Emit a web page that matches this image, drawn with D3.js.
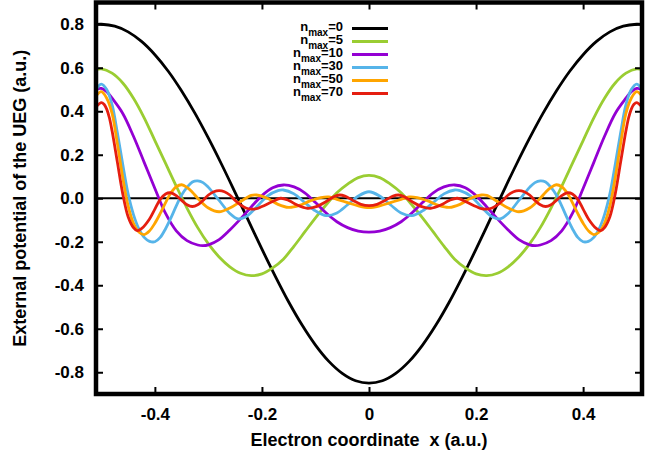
<!DOCTYPE html>
<html><head><meta charset="utf-8">
<script src="https://cdn.jsdelivr.net/npm/d3@7"></script>
<style>
body{margin:0;background:#fff}
svg{display:block}
text{font-family:"Liberation Sans",Arial,Helvetica,sans-serif;font-weight:bold;fill:#000}
</style>
</head><body>
<svg id="chart" width="669" height="458"></svg>
<script>
// ---- data ----
const xTicks = [-0.4, -0.2, 0, 0.2, 0.4];
const xTickLabels = ["-0.4", "-0.2", "0", "0.2", "0.4"];
const yTicks = [-0.8, -0.6, -0.4, -0.2, 0, 0.2, 0.4, 0.6, 0.8];
const yTickLabels = ["-0.8", "-0.6", "-0.4", "-0.2", "0.0", "0.2", "0.4", "0.6", "0.8"];
const seriesNmax = ["0", "5", "10", "30", "50", "70"];

const n0X = [-0.51,-0.5,-0.475,-0.45,-0.425,-0.4,-0.375,-0.35,-0.325,-0.3,-0.275,-0.25,-0.225,-0.2,-0.175,-0.15,-0.125,-0.1,-0.075,-0.05,-0.025,0,0.025,0.05,0.075,0.1,0.125,0.15,0.175,0.2,0.225,0.25,0.275,0.3,0.325,0.35,0.375,0.4,0.425,0.45,0.475,0.5,0.51];
const n0Y = [0.799,0.800,0.791,0.765,0.721,0.660,0.584,0.493,0.390,0.276,0.154,0.026,-0.104,-0.234,-0.359,-0.477,-0.583,-0.675,-0.750,-0.805,-0.839,-0.850,-0.839,-0.805,-0.750,-0.675,-0.583,-0.477,-0.359,-0.234,-0.104,0.026,0.154,0.276,0.390,0.493,0.584,0.660,0.721,0.765,0.791,0.800,0.799];

const n5X = [-0.51,-0.5,-0.48,-0.46,-0.44,-0.42,-0.4,-0.38,-0.36,-0.34,-0.32,-0.3,-0.28,-0.26,-0.24,-0.22,-0.2,-0.18,-0.16,-0.14,-0.12,-0.1,-0.08,-0.06,-0.04,-0.02,0,0.02,0.04,0.06,0.08,0.1,0.12,0.14,0.16,0.18,0.2,0.22,0.24,0.26,0.28,0.3,0.32,0.34,0.36,0.38,0.4,0.42,0.44,0.46,0.48,0.5,0.51];
const n5Y = [0.592,0.595,0.575,0.53,0.46,0.37,0.265,0.16,0.055,-0.045,-0.135,-0.21,-0.27,-0.315,-0.345,-0.356,-0.348,-0.32,-0.28,-0.22,-0.155,-0.09,-0.03,0.025,0.065,0.095,0.105,0.095,0.065,0.025,-0.03,-0.09,-0.155,-0.22,-0.28,-0.32,-0.348,-0.356,-0.345,-0.315,-0.27,-0.21,-0.135,-0.045,0.055,0.16,0.265,0.37,0.46,0.53,0.575,0.595,0.592];

const n10X = [-0.51,-0.5,-0.49,-0.48,-0.46,-0.44,-0.42,-0.4,-0.38,-0.36,-0.34,-0.32,-0.31,-0.3,-0.28,-0.26,-0.24,-0.22,-0.2,-0.18,-0.16,-0.14,-0.12,-0.1,-0.08,-0.06,-0.04,-0.02,0,0.02,0.04,0.06,0.08,0.1,0.12,0.14,0.16,0.18,0.2,0.22,0.24,0.26,0.28,0.3,0.31,0.32,0.34,0.36,0.38,0.4,0.42,0.44,0.46,0.48,0.49,0.5,0.51];
const n10Y = [0.50,0.505,0.49,0.46,0.39,0.285,0.165,0.045,-0.07,-0.15,-0.195,-0.215,-0.218,-0.214,-0.19,-0.146,-0.095,-0.04,0.012,0.048,0.061,0.052,0.025,-0.02,-0.068,-0.108,-0.135,-0.151,-0.156,-0.151,-0.135,-0.108,-0.068,-0.02,0.025,0.052,0.061,0.048,0.012,-0.04,-0.095,-0.146,-0.19,-0.214,-0.218,-0.215,-0.195,-0.15,-0.07,0.045,0.165,0.285,0.39,0.46,0.49,0.505,0.50];

const n30X = [-0.51,-0.5,-0.49,-0.48,-0.47,-0.46,-0.45,-0.44,-0.43,-0.42,-0.41,-0.4,-0.39,-0.38,-0.37,-0.36,-0.35,-0.34,-0.33,-0.32,-0.31,-0.3,-0.28,-0.26,-0.245,-0.23,-0.21,-0.19,-0.17,-0.16,-0.14,-0.12,-0.1,-0.08,-0.06,-0.04,-0.02,0,0.02,0.04,0.06,0.08,0.1,0.12,0.14,0.16,0.17,0.19,0.21,0.23,0.245,0.26,0.28,0.3,0.31,0.32,0.33,0.34,0.35,0.36,0.37,0.38,0.39,0.4,0.41,0.42,0.43,0.44,0.45,0.46,0.47,0.48,0.49,0.5,0.51];
const n30Y = [0.50,0.525,0.50,0.43,0.30,0.155,0.02,-0.075,-0.14,-0.18,-0.198,-0.20,-0.18,-0.14,-0.09,-0.035,0.015,0.05,0.075,0.08,0.072,0.05,-0.01,-0.07,-0.095,-0.085,-0.04,0.01,0.035,0.038,0.02,-0.02,-0.058,-0.08,-0.068,-0.03,0.01,0.03,0.01,-0.03,-0.068,-0.08,-0.058,-0.02,0.02,0.038,0.035,0.01,-0.04,-0.085,-0.095,-0.07,-0.01,0.05,0.072,0.08,0.075,0.05,0.015,-0.035,-0.09,-0.14,-0.18,-0.20,-0.198,-0.18,-0.14,-0.075,0.02,0.155,0.30,0.43,0.50,0.525,0.50];

const n50X = [-0.51,-0.5,-0.49,-0.48,-0.47,-0.46,-0.45,-0.44,-0.43,-0.42,-0.41,-0.4,-0.39,-0.38,-0.37,-0.36,-0.35,-0.34,-0.33,-0.32,-0.3,-0.28,-0.26,-0.24,-0.22,-0.21,-0.19,-0.17,-0.15,-0.13,-0.11,-0.09,-0.075,-0.06,-0.04,-0.02,0,0.02,0.04,0.06,0.075,0.09,0.11,0.13,0.15,0.17,0.19,0.21,0.22,0.24,0.26,0.28,0.3,0.32,0.33,0.34,0.35,0.36,0.37,0.38,0.39,0.4,0.41,0.42,0.43,0.44,0.45,0.46,0.47,0.48,0.49,0.5,0.51];
const n50Y = [0.47,0.49,0.46,0.39,0.25,0.095,-0.035,-0.115,-0.155,-0.167,-0.15,-0.115,-0.07,-0.02,0.025,0.053,0.062,0.05,0.028,0.0,-0.045,-0.062,-0.045,-0.015,0.013,0.015,0.0,-0.028,-0.042,-0.033,-0.012,0.003,0.006,-0.005,-0.02,-0.035,-0.043,-0.035,-0.02,-0.005,0.006,0.003,-0.012,-0.033,-0.042,-0.028,0.0,0.015,0.013,-0.015,-0.045,-0.062,-0.045,0.0,0.028,0.05,0.062,0.053,0.025,-0.02,-0.07,-0.115,-0.15,-0.167,-0.155,-0.115,-0.035,0.095,0.25,0.39,0.46,0.49,0.47];

const n70X = [-0.51,-0.5,-0.495,-0.49,-0.485,-0.48,-0.47,-0.46,-0.45,-0.44,-0.433,-0.425,-0.41,-0.4,-0.39,-0.38,-0.37,-0.36,-0.35,-0.34,-0.33,-0.32,-0.31,-0.3,-0.29,-0.28,-0.27,-0.26,-0.25,-0.24,-0.23,-0.22,-0.21,-0.2,-0.18,-0.165,-0.15,-0.135,-0.115,-0.1,-0.08,-0.065,-0.055,-0.045,-0.03,-0.015,0,0.015,0.03,0.045,0.055,0.065,0.08,0.1,0.115,0.135,0.15,0.165,0.18,0.2,0.21,0.22,0.23,0.24,0.25,0.26,0.27,0.28,0.29,0.3,0.31,0.32,0.33,0.34,0.35,0.36,0.37,0.38,0.39,0.4,0.41,0.425,0.433,0.44,0.45,0.46,0.47,0.48,0.485,0.49,0.495,0.5,0.51];
const n70Y = [0.42,0.44,0.432,0.41,0.37,0.31,0.165,0.02,-0.085,-0.135,-0.149,-0.14,-0.095,-0.05,-0.005,0.02,0.025,0.012,-0.01,-0.03,-0.038,-0.03,-0.01,0.015,0.03,0.035,0.03,0.015,-0.01,-0.03,-0.045,-0.05,-0.048,-0.038,-0.015,0.0,-0.01,-0.03,-0.046,-0.04,-0.015,0.008,0.015,0.01,-0.01,-0.028,-0.034,-0.028,-0.01,0.01,0.015,0.008,-0.015,-0.04,-0.046,-0.03,-0.01,0.0,-0.015,-0.038,-0.048,-0.05,-0.045,-0.03,-0.01,0.015,0.03,0.035,0.03,0.015,-0.01,-0.03,-0.038,-0.03,-0.01,0.012,0.025,0.02,-0.005,-0.05,-0.095,-0.14,-0.149,-0.135,-0.085,0.02,0.165,0.31,0.37,0.41,0.432,0.44,0.42];

// ---- styles ----
const seriesColors = ["#000000", "#9acd32", "#9400d3", "#56b4e9", "#ffa500", "#e51e10"];

// ---- layout ----
const pL = 96, pR = 642, pT = 2.5, pB = 394;

const x = d3.scaleLinear().domain([-0.51, 0.51]).range([pL, pR]);
const y = d3.scaleLinear().domain([-0.9, 0.9]).range([pB, pT]);

const svg = d3.select("#chart");

svg.append("defs").append("clipPath").attr("id", "plotclip")
  .append("rect").attr("x", pL).attr("y", pT).attr("width", pR - pL).attr("height", pB - pT);

const seriesX = [n0X, n5X, n10X, n30X, n50X, n70X];
const seriesY = [n0Y, n5Y, n10Y, n30Y, n50Y, n70Y];
const series = seriesX.map((xs, i) => ({
  name: seriesNmax[i], color: seriesColors[i],
  pts: d3.zip(xs, seriesY[i])
}));

const plot = svg.append("g").attr("clip-path", "url(#plotclip)");

// zero line
plot.append("line")
  .attr("x1", x(-0.51)).attr("x2", x(0.51))
  .attr("y1", y(0)).attr("y2", y(0))
  .attr("stroke", "#000").attr("stroke-width", 2);

const line = d3.line().x(d => x(d[0])).y(d => y(d[1])).curve(d3.curveCatmullRom.alpha(0.5));

plot.selectAll("path.series").data(series).enter().append("path")
  .attr("class", "series")
  .attr("d", d => line(d.pts))
  .attr("fill", "none")
  .attr("stroke", d => d.color)
  .attr("stroke-width", 2.8)
  .attr("stroke-linejoin", "round");

// axes (ticks point inward, mirrored on all sides)
const tickLen = 7;
const fs = 17;
const gB = svg.append("g").attr("transform", `translate(0,${pB})`)
  .call(d3.axisBottom(x).tickValues(xTicks).tickFormat((d, i) => xTickLabels[i]).tickSizeInner(-tickLen).tickSizeOuter(0).tickPadding(14));
const gT = svg.append("g").attr("transform", `translate(0,${pT})`)
  .call(d3.axisTop(x).tickValues(xTicks).tickFormat("").tickSizeInner(-tickLen).tickSizeOuter(0));
const gL = svg.append("g").attr("transform", `translate(${pL},0)`)
  .call(d3.axisLeft(y).tickValues(yTicks).tickFormat((d, i) => yTickLabels[i]).tickSizeInner(-tickLen).tickSizeOuter(0).tickPadding(12));
const gR = svg.append("g").attr("transform", `translate(${pR},0)`)
  .call(d3.axisRight(y).tickValues(yTicks).tickFormat("").tickSizeInner(-tickLen).tickSizeOuter(0));

[gB, gT, gL, gR].forEach(g => {
  g.select(".domain").remove();
  g.selectAll(".tick line").attr("stroke", "#000").attr("stroke-width", 2);
  g.selectAll(".tick text").attr("font-size", fs).attr("font-family", null).attr("fill", "#000");
});

// frame
svg.append("rect")
  .attr("x", pL).attr("y", pT).attr("width", pR - pL).attr("height", pB - pT)
  .attr("fill", "none").attr("stroke", "#000").attr("stroke-width", 4.5);

// axis titles
svg.append("text")
  .attr("x", (pL + pR) / 2).attr("y", 446)
  .attr("text-anchor", "middle").attr("font-size", 18)
  .style("white-space", "pre")
  .text("Electron coordinate  x (a.u.)");

svg.append("text")
  .attr("transform", `translate(26,${(pT + pB) / 2}) rotate(-90)`)
  .attr("text-anchor", "middle").attr("font-size", 18)
  .text("External potential of the UEG (a.u.)");

// legend
const legX = 343, legY0 = 28.5, legDy = 13.0;
const leg = svg.append("g");
series.forEach((s, i) => {
  const yy = legY0 + i * legDy;
  const t = leg.append("text").attr("x", legX).attr("y", yy + 2.8)
    .attr("text-anchor", "end").attr("font-size", 13);
  t.append("tspan").text("n");
  t.append("tspan").attr("font-size", 10).attr("dy", 4.5).text("max");
  t.append("tspan").attr("dy", -4.5).text("=" + s.name);
  leg.append("line").attr("x1", 352).attr("x2", 388).attr("y1", yy).attr("y2", yy)
    .attr("stroke", s.color).attr("stroke-width", 2.8);
});
</script>
</body></html>
